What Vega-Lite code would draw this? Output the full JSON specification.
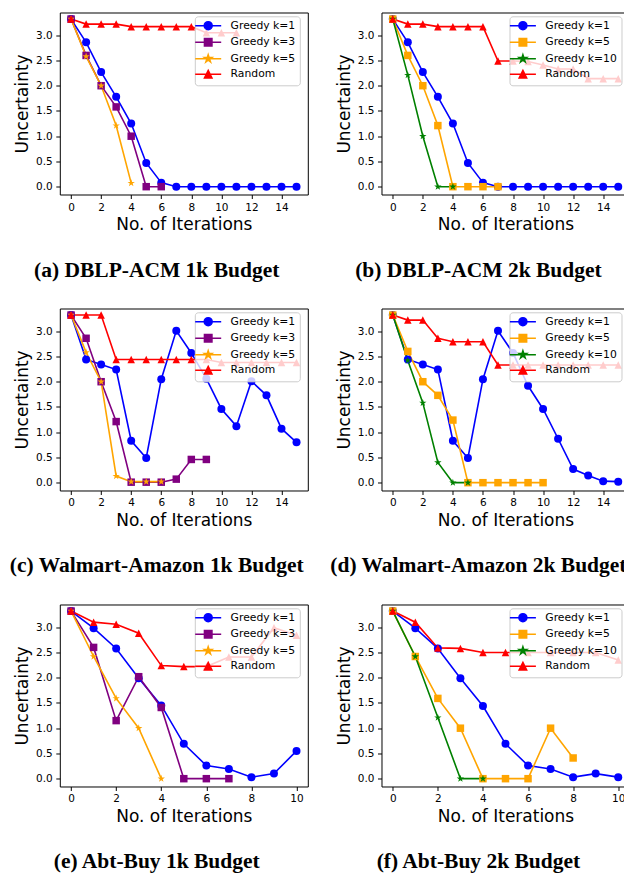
{
"$schema": "https://vega.github.io/schema/vega-lite/v6.json",
"background": "white",
"padding": {"left": 8.8, "top": 11.5, "right": 0, "bottom": 0},
"datasets": {
"a": [
{"series":"Greedy k=1","iter":0,"value":3.32},{"series":"Greedy k=1","iter":1,"value":2.86},{"series":"Greedy k=1","iter":2,"value":2.27},{"series":"Greedy k=1","iter":3,"value":1.78},{"series":"Greedy k=1","iter":4,"value":1.25},{"series":"Greedy k=1","iter":5,"value":0.47},{"series":"Greedy k=1","iter":6,"value":0.08},{"series":"Greedy k=1","iter":7,"value":0},{"series":"Greedy k=1","iter":8,"value":0},{"series":"Greedy k=1","iter":9,"value":0},{"series":"Greedy k=1","iter":10,"value":0},{"series":"Greedy k=1","iter":11,"value":0},{"series":"Greedy k=1","iter":12,"value":0},{"series":"Greedy k=1","iter":13,"value":0},{"series":"Greedy k=1","iter":14,"value":0},{"series":"Greedy k=1","iter":15,"value":0},
{"series":"Greedy k=3","iter":0,"value":3.32},{"series":"Greedy k=3","iter":1,"value":2.6},{"series":"Greedy k=3","iter":2,"value":2.0},{"series":"Greedy k=3","iter":3,"value":1.58},{"series":"Greedy k=3","iter":4,"value":1.0},{"series":"Greedy k=3","iter":5,"value":0},{"series":"Greedy k=3","iter":6,"value":0},
{"series":"Greedy k=5","iter":0,"value":3.32},{"series":"Greedy k=5","iter":1,"value":2.58},{"series":"Greedy k=5","iter":2,"value":2.0},{"series":"Greedy k=5","iter":3,"value":1.21},{"series":"Greedy k=5","iter":4,"value":0.07},
{"series":"Random","iter":0,"value":3.32},{"series":"Random","iter":1,"value":3.22},{"series":"Random","iter":2,"value":3.22},{"series":"Random","iter":3,"value":3.22},{"series":"Random","iter":4,"value":3.17},{"series":"Random","iter":5,"value":3.17},{"series":"Random","iter":6,"value":3.17},{"series":"Random","iter":7,"value":3.17},{"series":"Random","iter":8,"value":3.17},{"series":"Random","iter":9,"value":3.05},{"series":"Random","iter":10,"value":3.05},{"series":"Random","iter":11,"value":3.05}
],
"b": [
{"series":"Greedy k=1","iter":0,"value":3.32},{"series":"Greedy k=1","iter":1,"value":2.86},{"series":"Greedy k=1","iter":2,"value":2.27},{"series":"Greedy k=1","iter":3,"value":1.78},{"series":"Greedy k=1","iter":4,"value":1.25},{"series":"Greedy k=1","iter":5,"value":0.47},{"series":"Greedy k=1","iter":6,"value":0.08},{"series":"Greedy k=1","iter":7,"value":0},{"series":"Greedy k=1","iter":8,"value":0},{"series":"Greedy k=1","iter":9,"value":0},{"series":"Greedy k=1","iter":10,"value":0},{"series":"Greedy k=1","iter":11,"value":0},{"series":"Greedy k=1","iter":12,"value":0},{"series":"Greedy k=1","iter":13,"value":0},{"series":"Greedy k=1","iter":14,"value":0},{"series":"Greedy k=1","iter":15,"value":0},
{"series":"Greedy k=5","iter":0,"value":3.32},{"series":"Greedy k=5","iter":1,"value":2.6},{"series":"Greedy k=5","iter":2,"value":2.0},{"series":"Greedy k=5","iter":3,"value":1.21},{"series":"Greedy k=5","iter":4,"value":0},{"series":"Greedy k=5","iter":5,"value":0},{"series":"Greedy k=5","iter":6,"value":0},{"series":"Greedy k=5","iter":7,"value":0},
{"series":"Greedy k=10","iter":0,"value":3.32},{"series":"Greedy k=10","iter":1,"value":2.21},{"series":"Greedy k=10","iter":2,"value":1.0},{"series":"Greedy k=10","iter":3,"value":0},{"series":"Greedy k=10","iter":4,"value":0},
{"series":"Random","iter":0,"value":3.32},{"series":"Random","iter":1,"value":3.22},{"series":"Random","iter":2,"value":3.22},{"series":"Random","iter":3,"value":3.17},{"series":"Random","iter":4,"value":3.17},{"series":"Random","iter":5,"value":3.17},{"series":"Random","iter":6,"value":3.17},{"series":"Random","iter":7,"value":2.49},{"series":"Random","iter":8,"value":2.49},{"series":"Random","iter":9,"value":2.48},{"series":"Random","iter":10,"value":2.41},{"series":"Random","iter":11,"value":2.33},{"series":"Random","iter":12,"value":2.33},{"series":"Random","iter":13,"value":2.14},{"series":"Random","iter":14,"value":2.14},{"series":"Random","iter":15,"value":2.14}
],
"c": [
{"series":"Greedy k=1","iter":0,"value":3.32},{"series":"Greedy k=1","iter":1,"value":2.44},{"series":"Greedy k=1","iter":2,"value":2.34},{"series":"Greedy k=1","iter":3,"value":2.24},{"series":"Greedy k=1","iter":4,"value":0.83},{"series":"Greedy k=1","iter":5,"value":0.49},{"series":"Greedy k=1","iter":6,"value":2.05},{"series":"Greedy k=1","iter":7,"value":3.01},{"series":"Greedy k=1","iter":8,"value":2.57},{"series":"Greedy k=1","iter":9,"value":2.06},{"series":"Greedy k=1","iter":10,"value":1.46},{"series":"Greedy k=1","iter":11,"value":1.12},{"series":"Greedy k=1","iter":12,"value":2.01},{"series":"Greedy k=1","iter":13,"value":1.73},{"series":"Greedy k=1","iter":14,"value":1.07},{"series":"Greedy k=1","iter":15,"value":0.8},
{"series":"Greedy k=3","iter":0,"value":3.32},{"series":"Greedy k=3","iter":1,"value":2.86},{"series":"Greedy k=3","iter":2,"value":2.0},{"series":"Greedy k=3","iter":3,"value":1.21},{"series":"Greedy k=3","iter":4,"value":0.01},{"series":"Greedy k=3","iter":5,"value":0.01},{"series":"Greedy k=3","iter":6,"value":0.01},{"series":"Greedy k=3","iter":7,"value":0.07},{"series":"Greedy k=3","iter":8,"value":0.46},{"series":"Greedy k=3","iter":9,"value":0.46},
{"series":"Greedy k=5","iter":0,"value":3.32},{"series":"Greedy k=5","iter":1,"value":2.58},{"series":"Greedy k=5","iter":2,"value":2.0},{"series":"Greedy k=5","iter":3,"value":0.13},{"series":"Greedy k=5","iter":4,"value":0.02},{"series":"Greedy k=5","iter":5,"value":0.02},{"series":"Greedy k=5","iter":6,"value":0.02},
{"series":"Random","iter":0,"value":3.32},{"series":"Random","iter":1,"value":3.32},{"series":"Random","iter":2,"value":3.32},{"series":"Random","iter":3,"value":2.44},{"series":"Random","iter":4,"value":2.44},{"series":"Random","iter":5,"value":2.44},{"series":"Random","iter":6,"value":2.44},{"series":"Random","iter":7,"value":2.44},{"series":"Random","iter":8,"value":2.44},{"series":"Random","iter":9,"value":2.44},{"series":"Random","iter":10,"value":2.38},{"series":"Random","iter":11,"value":2.38},{"series":"Random","iter":12,"value":2.38},{"series":"Random","iter":13,"value":2.38},{"series":"Random","iter":14,"value":2.38},{"series":"Random","iter":15,"value":2.38}
],
"d": [
{"series":"Greedy k=1","iter":0,"value":3.32},{"series":"Greedy k=1","iter":1,"value":2.44},{"series":"Greedy k=1","iter":2,"value":2.34},{"series":"Greedy k=1","iter":3,"value":2.24},{"series":"Greedy k=1","iter":4,"value":0.83},{"series":"Greedy k=1","iter":5,"value":0.49},{"series":"Greedy k=1","iter":6,"value":2.05},{"series":"Greedy k=1","iter":7,"value":3.01},{"series":"Greedy k=1","iter":8,"value":2.57},{"series":"Greedy k=1","iter":9,"value":1.92},{"series":"Greedy k=1","iter":10,"value":1.46},{"series":"Greedy k=1","iter":11,"value":0.87},{"series":"Greedy k=1","iter":12,"value":0.27},{"series":"Greedy k=1","iter":13,"value":0.14},{"series":"Greedy k=1","iter":14,"value":0.03},{"series":"Greedy k=1","iter":15,"value":0.02},
{"series":"Greedy k=5","iter":0,"value":3.32},{"series":"Greedy k=5","iter":1,"value":2.6},{"series":"Greedy k=5","iter":2,"value":2.0},{"series":"Greedy k=5","iter":3,"value":1.73},{"series":"Greedy k=5","iter":4,"value":1.24},{"series":"Greedy k=5","iter":5,"value":0},{"series":"Greedy k=5","iter":6,"value":0},{"series":"Greedy k=5","iter":7,"value":0},{"series":"Greedy k=5","iter":8,"value":0},{"series":"Greedy k=5","iter":9,"value":0},{"series":"Greedy k=5","iter":10,"value":0},
{"series":"Greedy k=10","iter":0,"value":3.32},{"series":"Greedy k=10","iter":1,"value":2.42},{"series":"Greedy k=10","iter":2,"value":1.58},{"series":"Greedy k=10","iter":3,"value":0.4},{"series":"Greedy k=10","iter":4,"value":0},{"series":"Greedy k=10","iter":5,"value":0},
{"series":"Random","iter":0,"value":3.32},{"series":"Random","iter":1,"value":3.22},{"series":"Random","iter":2,"value":3.22},{"series":"Random","iter":3,"value":2.86},{"series":"Random","iter":4,"value":2.79},{"series":"Random","iter":5,"value":2.79},{"series":"Random","iter":6,"value":2.79},{"series":"Random","iter":7,"value":2.33},{"series":"Random","iter":8,"value":2.33},{"series":"Random","iter":9,"value":2.33},{"series":"Random","iter":10,"value":2.33},{"series":"Random","iter":11,"value":2.33},{"series":"Random","iter":12,"value":2.33},{"series":"Random","iter":13,"value":2.33},{"series":"Random","iter":14,"value":2.33},{"series":"Random","iter":15,"value":2.33}
],
"e": [
{"series":"Greedy k=1","iter":0,"value":3.32},{"series":"Greedy k=1","iter":1,"value":2.98},{"series":"Greedy k=1","iter":2,"value":2.58},{"series":"Greedy k=1","iter":3,"value":1.99},{"series":"Greedy k=1","iter":4,"value":1.45},{"series":"Greedy k=1","iter":5,"value":0.69},{"series":"Greedy k=1","iter":6,"value":0.26},{"series":"Greedy k=1","iter":7,"value":0.19},{"series":"Greedy k=1","iter":8,"value":0.03},{"series":"Greedy k=1","iter":9,"value":0.1},{"series":"Greedy k=1","iter":10,"value":0.55},
{"series":"Greedy k=3","iter":0,"value":3.32},{"series":"Greedy k=3","iter":1,"value":2.6},{"series":"Greedy k=3","iter":2,"value":1.15},{"series":"Greedy k=3","iter":3,"value":2.02},{"series":"Greedy k=3","iter":4,"value":1.41},{"series":"Greedy k=3","iter":5,"value":0},{"series":"Greedy k=3","iter":6,"value":0},{"series":"Greedy k=3","iter":7,"value":0},
{"series":"Greedy k=5","iter":0,"value":3.32},{"series":"Greedy k=5","iter":1,"value":2.42},{"series":"Greedy k=5","iter":2,"value":1.59},{"series":"Greedy k=5","iter":3,"value":1.0},{"series":"Greedy k=5","iter":4,"value":0},
{"series":"Random","iter":0,"value":3.32},{"series":"Random","iter":1,"value":3.1},{"series":"Random","iter":2,"value":3.06},{"series":"Random","iter":3,"value":2.88},{"series":"Random","iter":4,"value":2.24},{"series":"Random","iter":5,"value":2.22},{"series":"Random","iter":6,"value":2.22},{"series":"Random","iter":7,"value":2.41},{"series":"Random","iter":8,"value":2.41},{"series":"Random","iter":9,"value":2.99},{"series":"Random","iter":10,"value":2.84}
],
"f": [
{"series":"Greedy k=1","iter":0,"value":3.32},{"series":"Greedy k=1","iter":1,"value":2.98},{"series":"Greedy k=1","iter":2,"value":2.58},{"series":"Greedy k=1","iter":3,"value":1.99},{"series":"Greedy k=1","iter":4,"value":1.44},{"series":"Greedy k=1","iter":5,"value":0.69},{"series":"Greedy k=1","iter":6,"value":0.26},{"series":"Greedy k=1","iter":7,"value":0.19},{"series":"Greedy k=1","iter":8,"value":0.03},{"series":"Greedy k=1","iter":9,"value":0.1},{"series":"Greedy k=1","iter":10,"value":0.03},
{"series":"Greedy k=5","iter":0,"value":3.32},{"series":"Greedy k=5","iter":1,"value":2.42},{"series":"Greedy k=5","iter":2,"value":1.59},{"series":"Greedy k=5","iter":3,"value":1.0},{"series":"Greedy k=5","iter":4,"value":0},{"series":"Greedy k=5","iter":5,"value":0},{"series":"Greedy k=5","iter":6,"value":0},{"series":"Greedy k=5","iter":7,"value":1.0},{"series":"Greedy k=5","iter":8,"value":0.41},
{"series":"Greedy k=10","iter":0,"value":3.32},{"series":"Greedy k=10","iter":1,"value":2.42},{"series":"Greedy k=10","iter":2,"value":1.21},{"series":"Greedy k=10","iter":3,"value":0},{"series":"Greedy k=10","iter":4,"value":0},
{"series":"Random","iter":0,"value":3.32},{"series":"Random","iter":1,"value":3.1},{"series":"Random","iter":2,"value":2.59},{"series":"Random","iter":3,"value":2.58},{"series":"Random","iter":4,"value":2.5},{"series":"Random","iter":5,"value":2.5},{"series":"Random","iter":6,"value":2.5},{"series":"Random","iter":7,"value":2.5},{"series":"Random","iter":8,"value":2.5},{"series":"Random","iter":9,"value":2.5},{"series":"Random","iter":10,"value":2.35}
]
},
"columns": 2,
"bounds": "flush",
"spacing": {"row": 114, "column": 73.7},
"resolve": {"scale": {"color": "independent", "shape": "independent", "fill": "independent", "stroke": "independent"}, "legend": {"color": "independent", "shape": "independent", "fill": "independent", "stroke": "independent"}},
"concat": [
{
"width": 248, "height": 182,
"data": {"name": "a"},
"title": {"text": "(a) DBLP-ACM 1k Budget", "orient": "bottom", "dx": -4},
"encoding": {
"x": {"field": "iter", "type": "quantitative", "scale": {"domain": [-0.75, 15.75], "nice": false, "zero": false}, "axis": {"values": [0,2,4,6,8,10,12,14], "format": "d", "title": "No. of Iterations"}},
"y": {"field": "value", "type": "quantitative", "scale": {"domain": [-0.155, 3.45], "nice": false, "zero": false}, "axis": {"values": [0,0.5,1,1.5,2,2.5,3], "format": ".1f", "title": "Uncertainty"}},
"color": {"field": "series", "type": "nominal", "scale": {"domain": ["Random","Greedy k=1","Greedy k=3","Greedy k=5"], "range": ["#ff0000","#0000ff","#800080","#ffa500"]}, "legend": null}
},
"layer": [
{"mark": {"type": "line", "strokeWidth": 1.6}},
{"transform": [{"filter": "datum.series === 'Greedy k=1'"}], "mark": {"type": "point", "filled": true, "size": 64, "opacity": 1, "shape": "circle"}},
{"transform": [{"filter": "datum.series === 'Greedy k=3'"}], "mark": {"type": "point", "filled": true, "size": 56, "opacity": 1, "shape": "square"}},
{"transform": [{"filter": "datum.series === 'Greedy k=5'"}], "mark": {"type": "point", "filled": true, "size": 60, "opacity": 1, "shape": "M0,-1L0.2245,-0.309L0.951,-0.309L0.363,0.118L0.588,0.809L0,0.382L-0.588,0.809L-0.363,0.118L-0.951,-0.309L-0.2245,-0.309Z"}},
{"transform": [{"filter": "datum.series === 'Random'"}], "mark": {"type": "point", "filled": true, "size": 56, "opacity": 1, "shape": "M0,-1L1,1H-1Z"}},
{"transform": [{"filter": "false"}], "mark": {"type": "point", "filled": true, "size": 64, "opacity": 1, "strokeWidth": 1.5},
"encoding": {
"fill": {"field": "series", "type": "nominal", "scale": {"domain": ["Greedy k=1","Greedy k=3","Greedy k=5","Random"], "range": ["#0000ff","#800080","#ffa500","#ff0000"]}, "legend": {"title": null, "legendX": 135}},
"stroke": {"field": "series", "type": "nominal", "scale": {"domain": ["Greedy k=1","Greedy k=3","Greedy k=5","Random"], "range": ["#0000ff","#800080","#ffa500","#ff0000"]}, "legend": {"title": null, "legendX": 135}},
"shape": {"field": "series", "type": "nominal", "scale": {"domain": ["Greedy k=1","Greedy k=3","Greedy k=5","Random"], "range": ["M-3.25,0H3.25M1,0A1,1,0,1,1,-1,0A1,1,0,1,1,1,0Z","M-3.25,0H3.25M-0.94,-0.94H0.94V0.94H-0.94Z","M-3.25,0H3.25M0,-1L0.2245,-0.309L0.951,-0.309L0.363,0.118L0.588,0.809L0,0.382L-0.588,0.809L-0.363,0.118L-0.951,-0.309L-0.2245,-0.309Z","M-3.25,0H3.25M0,-0.94L0.94,0.94H-0.94Z"]}, "legend": {"title": null, "legendX": 135}}
}}
]
},
{
"width": 248, "height": 182,
"data": {"name": "b"},
"title": {"text": "(b) DBLP-ACM 2k Budget", "orient": "bottom", "dx": -4},
"encoding": {
"x": {"field": "iter", "type": "quantitative", "scale": {"domain": [-0.75, 15.75], "nice": false, "zero": false}, "axis": {"values": [0,2,4,6,8,10,12,14], "format": "d", "title": "No. of Iterations"}},
"y": {"field": "value", "type": "quantitative", "scale": {"domain": [-0.155, 3.45], "nice": false, "zero": false}, "axis": {"values": [0,0.5,1,1.5,2,2.5,3], "format": ".1f", "title": "Uncertainty"}},
"color": {"field": "series", "type": "nominal", "scale": {"domain": ["Random","Greedy k=1","Greedy k=5","Greedy k=10"], "range": ["#ff0000","#0000ff","#ffa500","#008000"]}, "legend": null}
},
"layer": [
{"mark": {"type": "line", "strokeWidth": 1.6}},
{"transform": [{"filter": "datum.series === 'Greedy k=1'"}], "mark": {"type": "point", "filled": true, "size": 64, "opacity": 1, "shape": "circle"}},
{"transform": [{"filter": "datum.series === 'Greedy k=5'"}], "mark": {"type": "point", "filled": true, "size": 56, "opacity": 1, "shape": "square"}},
{"transform": [{"filter": "datum.series === 'Greedy k=10'"}], "mark": {"type": "point", "filled": true, "size": 60, "opacity": 1, "shape": "M0,-1L0.2245,-0.309L0.951,-0.309L0.363,0.118L0.588,0.809L0,0.382L-0.588,0.809L-0.363,0.118L-0.951,-0.309L-0.2245,-0.309Z"}},
{"transform": [{"filter": "datum.series === 'Random'"}], "mark": {"type": "point", "filled": true, "size": 56, "opacity": 1, "shape": "M0,-1L1,1H-1Z"}},
{"transform": [{"filter": "false"}], "mark": {"type": "point", "filled": true, "size": 64, "opacity": 1, "strokeWidth": 1.5},
"encoding": {
"fill": {"field": "series", "type": "nominal", "scale": {"domain": ["Greedy k=1","Greedy k=5","Greedy k=10","Random"], "range": ["#0000ff","#ffa500","#008000","#ff0000"]}, "legend": {"title": null, "legendX": 128}},
"stroke": {"field": "series", "type": "nominal", "scale": {"domain": ["Greedy k=1","Greedy k=5","Greedy k=10","Random"], "range": ["#0000ff","#ffa500","#008000","#ff0000"]}, "legend": {"title": null, "legendX": 128}},
"shape": {"field": "series", "type": "nominal", "scale": {"domain": ["Greedy k=1","Greedy k=5","Greedy k=10","Random"], "range": ["M-3.25,0H3.25M1,0A1,1,0,1,1,-1,0A1,1,0,1,1,1,0Z","M-3.25,0H3.25M-0.94,-0.94H0.94V0.94H-0.94Z","M-3.25,0H3.25M0,-1L0.2245,-0.309L0.951,-0.309L0.363,0.118L0.588,0.809L0,0.382L-0.588,0.809L-0.363,0.118L-0.951,-0.309L-0.2245,-0.309Z","M-3.25,0H3.25M0,-0.94L0.94,0.94H-0.94Z"]}, "legend": {"title": null, "legendX": 128}}
}}
]
},
{
"width": 248, "height": 182,
"data": {"name": "c"},
"title": {"text": "(c) Walmart-Amazon 1k Budget", "orient": "bottom", "dx": -4},
"encoding": {
"x": {"field": "iter", "type": "quantitative", "scale": {"domain": [-0.75, 15.75], "nice": false, "zero": false}, "axis": {"values": [0,2,4,6,8,10,12,14], "format": "d", "title": "No. of Iterations"}},
"y": {"field": "value", "type": "quantitative", "scale": {"domain": [-0.155, 3.45], "nice": false, "zero": false}, "axis": {"values": [0,0.5,1,1.5,2,2.5,3], "format": ".1f", "title": "Uncertainty"}},
"color": {"field": "series", "type": "nominal", "scale": {"domain": ["Random","Greedy k=1","Greedy k=3","Greedy k=5"], "range": ["#ff0000","#0000ff","#800080","#ffa500"]}, "legend": null}
},
"layer": [
{"mark": {"type": "line", "strokeWidth": 1.6}},
{"transform": [{"filter": "datum.series === 'Greedy k=1'"}], "mark": {"type": "point", "filled": true, "size": 64, "opacity": 1, "shape": "circle"}},
{"transform": [{"filter": "datum.series === 'Greedy k=3'"}], "mark": {"type": "point", "filled": true, "size": 56, "opacity": 1, "shape": "square"}},
{"transform": [{"filter": "datum.series === 'Greedy k=5'"}], "mark": {"type": "point", "filled": true, "size": 60, "opacity": 1, "shape": "M0,-1L0.2245,-0.309L0.951,-0.309L0.363,0.118L0.588,0.809L0,0.382L-0.588,0.809L-0.363,0.118L-0.951,-0.309L-0.2245,-0.309Z"}},
{"transform": [{"filter": "datum.series === 'Random'"}], "mark": {"type": "point", "filled": true, "size": 56, "opacity": 1, "shape": "M0,-1L1,1H-1Z"}},
{"transform": [{"filter": "false"}], "mark": {"type": "point", "filled": true, "size": 64, "opacity": 1, "strokeWidth": 1.5},
"encoding": {
"fill": {"field": "series", "type": "nominal", "scale": {"domain": ["Greedy k=1","Greedy k=3","Greedy k=5","Random"], "range": ["#0000ff","#800080","#ffa500","#ff0000"]}, "legend": {"title": null, "legendX": 135}},
"stroke": {"field": "series", "type": "nominal", "scale": {"domain": ["Greedy k=1","Greedy k=3","Greedy k=5","Random"], "range": ["#0000ff","#800080","#ffa500","#ff0000"]}, "legend": {"title": null, "legendX": 135}},
"shape": {"field": "series", "type": "nominal", "scale": {"domain": ["Greedy k=1","Greedy k=3","Greedy k=5","Random"], "range": ["M-3.25,0H3.25M1,0A1,1,0,1,1,-1,0A1,1,0,1,1,1,0Z","M-3.25,0H3.25M-0.94,-0.94H0.94V0.94H-0.94Z","M-3.25,0H3.25M0,-1L0.2245,-0.309L0.951,-0.309L0.363,0.118L0.588,0.809L0,0.382L-0.588,0.809L-0.363,0.118L-0.951,-0.309L-0.2245,-0.309Z","M-3.25,0H3.25M0,-0.94L0.94,0.94H-0.94Z"]}, "legend": {"title": null, "legendX": 135}}
}}
]
},
{
"width": 248, "height": 182,
"data": {"name": "d"},
"title": {"text": "(d) Walmart-Amazon 2k Budget", "orient": "bottom", "dx": -4},
"encoding": {
"x": {"field": "iter", "type": "quantitative", "scale": {"domain": [-0.75, 15.75], "nice": false, "zero": false}, "axis": {"values": [0,2,4,6,8,10,12,14], "format": "d", "title": "No. of Iterations"}},
"y": {"field": "value", "type": "quantitative", "scale": {"domain": [-0.155, 3.45], "nice": false, "zero": false}, "axis": {"values": [0,0.5,1,1.5,2,2.5,3], "format": ".1f", "title": "Uncertainty"}},
"color": {"field": "series", "type": "nominal", "scale": {"domain": ["Random","Greedy k=1","Greedy k=5","Greedy k=10"], "range": ["#ff0000","#0000ff","#ffa500","#008000"]}, "legend": null}
},
"layer": [
{"mark": {"type": "line", "strokeWidth": 1.6}},
{"transform": [{"filter": "datum.series === 'Greedy k=1'"}], "mark": {"type": "point", "filled": true, "size": 64, "opacity": 1, "shape": "circle"}},
{"transform": [{"filter": "datum.series === 'Greedy k=5'"}], "mark": {"type": "point", "filled": true, "size": 56, "opacity": 1, "shape": "square"}},
{"transform": [{"filter": "datum.series === 'Greedy k=10'"}], "mark": {"type": "point", "filled": true, "size": 60, "opacity": 1, "shape": "M0,-1L0.2245,-0.309L0.951,-0.309L0.363,0.118L0.588,0.809L0,0.382L-0.588,0.809L-0.363,0.118L-0.951,-0.309L-0.2245,-0.309Z"}},
{"transform": [{"filter": "datum.series === 'Random'"}], "mark": {"type": "point", "filled": true, "size": 56, "opacity": 1, "shape": "M0,-1L1,1H-1Z"}},
{"transform": [{"filter": "false"}], "mark": {"type": "point", "filled": true, "size": 64, "opacity": 1, "strokeWidth": 1.5},
"encoding": {
"fill": {"field": "series", "type": "nominal", "scale": {"domain": ["Greedy k=1","Greedy k=5","Greedy k=10","Random"], "range": ["#0000ff","#ffa500","#008000","#ff0000"]}, "legend": {"title": null, "legendX": 128}},
"stroke": {"field": "series", "type": "nominal", "scale": {"domain": ["Greedy k=1","Greedy k=5","Greedy k=10","Random"], "range": ["#0000ff","#ffa500","#008000","#ff0000"]}, "legend": {"title": null, "legendX": 128}},
"shape": {"field": "series", "type": "nominal", "scale": {"domain": ["Greedy k=1","Greedy k=5","Greedy k=10","Random"], "range": ["M-3.25,0H3.25M1,0A1,1,0,1,1,-1,0A1,1,0,1,1,1,0Z","M-3.25,0H3.25M-0.94,-0.94H0.94V0.94H-0.94Z","M-3.25,0H3.25M0,-1L0.2245,-0.309L0.951,-0.309L0.363,0.118L0.588,0.809L0,0.382L-0.588,0.809L-0.363,0.118L-0.951,-0.309L-0.2245,-0.309Z","M-3.25,0H3.25M0,-0.94L0.94,0.94H-0.94Z"]}, "legend": {"title": null, "legendX": 128}}
}}
]
},
{
"width": 248, "height": 182,
"data": {"name": "e"},
"title": {"text": "(e) Abt-Buy 1k Budget", "orient": "bottom", "dx": -4},
"encoding": {
"x": {"field": "iter", "type": "quantitative", "scale": {"domain": [-0.5, 10.5], "nice": false, "zero": false}, "axis": {"values": [0,2,4,6,8,10], "format": "d", "title": "No. of Iterations"}},
"y": {"field": "value", "type": "quantitative", "scale": {"domain": [-0.155, 3.45], "nice": false, "zero": false}, "axis": {"values": [0,0.5,1,1.5,2,2.5,3], "format": ".1f", "title": "Uncertainty"}},
"color": {"field": "series", "type": "nominal", "scale": {"domain": ["Random","Greedy k=1","Greedy k=3","Greedy k=5"], "range": ["#ff0000","#0000ff","#800080","#ffa500"]}, "legend": null}
},
"layer": [
{"mark": {"type": "line", "strokeWidth": 1.6}},
{"transform": [{"filter": "datum.series === 'Greedy k=1'"}], "mark": {"type": "point", "filled": true, "size": 64, "opacity": 1, "shape": "circle"}},
{"transform": [{"filter": "datum.series === 'Greedy k=3'"}], "mark": {"type": "point", "filled": true, "size": 56, "opacity": 1, "shape": "square"}},
{"transform": [{"filter": "datum.series === 'Greedy k=5'"}], "mark": {"type": "point", "filled": true, "size": 60, "opacity": 1, "shape": "M0,-1L0.2245,-0.309L0.951,-0.309L0.363,0.118L0.588,0.809L0,0.382L-0.588,0.809L-0.363,0.118L-0.951,-0.309L-0.2245,-0.309Z"}},
{"transform": [{"filter": "datum.series === 'Random'"}], "mark": {"type": "point", "filled": true, "size": 56, "opacity": 1, "shape": "M0,-1L1,1H-1Z"}},
{"transform": [{"filter": "false"}], "mark": {"type": "point", "filled": true, "size": 64, "opacity": 1, "strokeWidth": 1.5},
"encoding": {
"fill": {"field": "series", "type": "nominal", "scale": {"domain": ["Greedy k=1","Greedy k=3","Greedy k=5","Random"], "range": ["#0000ff","#800080","#ffa500","#ff0000"]}, "legend": {"title": null, "legendX": 135}},
"stroke": {"field": "series", "type": "nominal", "scale": {"domain": ["Greedy k=1","Greedy k=3","Greedy k=5","Random"], "range": ["#0000ff","#800080","#ffa500","#ff0000"]}, "legend": {"title": null, "legendX": 135}},
"shape": {"field": "series", "type": "nominal", "scale": {"domain": ["Greedy k=1","Greedy k=3","Greedy k=5","Random"], "range": ["M-3.25,0H3.25M1,0A1,1,0,1,1,-1,0A1,1,0,1,1,1,0Z","M-3.25,0H3.25M-0.94,-0.94H0.94V0.94H-0.94Z","M-3.25,0H3.25M0,-1L0.2245,-0.309L0.951,-0.309L0.363,0.118L0.588,0.809L0,0.382L-0.588,0.809L-0.363,0.118L-0.951,-0.309L-0.2245,-0.309Z","M-3.25,0H3.25M0,-0.94L0.94,0.94H-0.94Z"]}, "legend": {"title": null, "legendX": 135}}
}}
]
},
{
"width": 248, "height": 182,
"data": {"name": "f"},
"title": {"text": "(f) Abt-Buy 2k Budget", "orient": "bottom", "dx": -4},
"encoding": {
"x": {"field": "iter", "type": "quantitative", "scale": {"domain": [-0.5, 10.5], "nice": false, "zero": false}, "axis": {"values": [0,2,4,6,8,10], "format": "d", "title": "No. of Iterations"}},
"y": {"field": "value", "type": "quantitative", "scale": {"domain": [-0.155, 3.45], "nice": false, "zero": false}, "axis": {"values": [0,0.5,1,1.5,2,2.5,3], "format": ".1f", "title": "Uncertainty"}},
"color": {"field": "series", "type": "nominal", "scale": {"domain": ["Random","Greedy k=1","Greedy k=5","Greedy k=10"], "range": ["#ff0000","#0000ff","#ffa500","#008000"]}, "legend": null}
},
"layer": [
{"mark": {"type": "line", "strokeWidth": 1.6}},
{"transform": [{"filter": "datum.series === 'Greedy k=1'"}], "mark": {"type": "point", "filled": true, "size": 64, "opacity": 1, "shape": "circle"}},
{"transform": [{"filter": "datum.series === 'Greedy k=5'"}], "mark": {"type": "point", "filled": true, "size": 56, "opacity": 1, "shape": "square"}},
{"transform": [{"filter": "datum.series === 'Greedy k=10'"}], "mark": {"type": "point", "filled": true, "size": 60, "opacity": 1, "shape": "M0,-1L0.2245,-0.309L0.951,-0.309L0.363,0.118L0.588,0.809L0,0.382L-0.588,0.809L-0.363,0.118L-0.951,-0.309L-0.2245,-0.309Z"}},
{"transform": [{"filter": "datum.series === 'Random'"}], "mark": {"type": "point", "filled": true, "size": 56, "opacity": 1, "shape": "M0,-1L1,1H-1Z"}},
{"transform": [{"filter": "false"}], "mark": {"type": "point", "filled": true, "size": 64, "opacity": 1, "strokeWidth": 1.5},
"encoding": {
"fill": {"field": "series", "type": "nominal", "scale": {"domain": ["Greedy k=1","Greedy k=5","Greedy k=10","Random"], "range": ["#0000ff","#ffa500","#008000","#ff0000"]}, "legend": {"title": null, "legendX": 128}},
"stroke": {"field": "series", "type": "nominal", "scale": {"domain": ["Greedy k=1","Greedy k=5","Greedy k=10","Random"], "range": ["#0000ff","#ffa500","#008000","#ff0000"]}, "legend": {"title": null, "legendX": 128}},
"shape": {"field": "series", "type": "nominal", "scale": {"domain": ["Greedy k=1","Greedy k=5","Greedy k=10","Random"], "range": ["M-3.25,0H3.25M1,0A1,1,0,1,1,-1,0A1,1,0,1,1,1,0Z","M-3.25,0H3.25M-0.94,-0.94H0.94V0.94H-0.94Z","M-3.25,0H3.25M0,-1L0.2245,-0.309L0.951,-0.309L0.363,0.118L0.588,0.809L0,0.382L-0.588,0.809L-0.363,0.118L-0.951,-0.309L-0.2245,-0.309Z","M-3.25,0H3.25M0,-0.94L0.94,0.94H-0.94Z"]}, "legend": {"title": null, "legendX": 128}}
}}
]
}
],
"config": {
"view": {"stroke": "#000000", "strokeWidth": 1},
"axis": {"domain": false, "grid": false, "ticks": true, "tickColor": "#000000", "tickSize": 4, "tickWidth": 1, "labelFont": "DejaVu Sans", "labelFontSize": 10.5, "labelColor": "#000000", "labelPadding": 3.5, "titleFont": "DejaVu Sans", "titleFontSize": 17, "titleFontWeight": "normal", "titleColor": "#000000", "titlePadding": 4},
"legend": {"orient": "none", "legendY": 3.8, "padding": 4, "rowPadding": 1.5, "symbolSize": 64, "symbolStrokeWidth": 1.5, "symbolOffset": 4, "labelOffset": 17, "labelFont": "DejaVu Sans", "labelFontSize": 10.8, "labelColor": "#000000", "fillColor": "rgba(255,255,255,0.8)", "strokeColor": "#cccccc", "cornerRadius": 3},
"title": {"font": "Liberation Serif", "fontWeight": "bold", "fontSize": 21.5, "color": "#000000", "offset": 27, "anchor": "middle", "frame": "bounds"}
}
}
